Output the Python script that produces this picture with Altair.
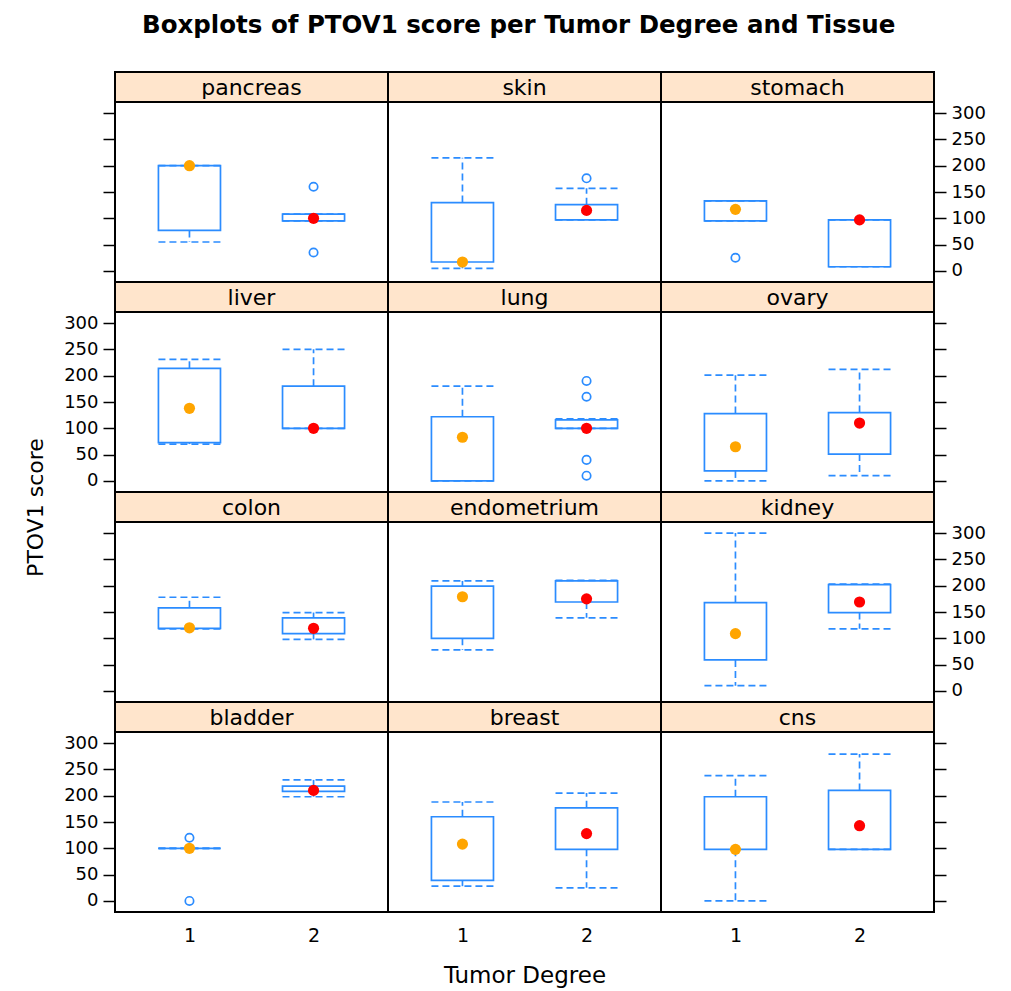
import altair as alt
import pandas as pd

# ---- data ----
TISSUES = ["pancreas", "skin", "stomach",
           "liver", "lung", "ovary",
           "colon", "endometrium", "kidney",
           "bladder", "breast", "cns"]

# degree 1 statistics, one value per tissue (same order as TISSUES)
LW_1  = [55,   5,  95,  70,   0,   0, 118,  78,  10, 100,  28,   0]
Q1_1  = [77,  17,  95,  73,   0,  19, 119, 100,  59, 100,  39,  98]
MED_1 = [200, 17, 117, 138,  83,  65, 120, 179, 109, 100, 108,  98]
Q3_1  = [200, 130, 133, 214, 122, 128, 158, 199, 168, 100, 160, 198]
UW_1  = [200, 215, 133, 231, 180, 201, 178, 209, 300, 100, 188, 238]

# degree 2 statistics
LW_2  = [95,  97,   8, 100, 100,  10,  98, 139, 118, 198,  25,  98]
Q1_2  = [95,  97,   8, 100, 100,  51, 109, 169, 149, 208,  98,  98]
MED_2 = [100, 115, 97, 100, 100, 110, 119, 175, 169, 210, 128, 143]
Q3_2  = [108, 126, 97, 180, 116, 130, 139, 209, 202, 218, 177, 210]
UW_2  = [108, 157, 97, 250, 118, 212, 149, 210, 203, 230, 205, 279]

# outliers
OUT_TISSUE = ["pancreas", "pancreas", "skin", "stomach", "lung", "lung", "lung", "lung", "bladder", "bladder"]
OUT_DEGREE = [2, 2, 2, 1, 2, 2, 2, 2, 1, 1]
OUT_VALUE  = [160, 35, 176, 25, 190, 160, 40, 10, 120, 0]

Y_TICKS = [0, 50, 100, 150, 200, 250, 300]
X_TICKS = [1, 2]

# ---- styling ----
BLUE = "#2b8cff"
STRIP = "#FFE5CC"
FONT = "DejaVu Sans"
PW, PH, SH = 273, 180, 30

rows = []
for i, t in enumerate(TISSUES):
    rows.append(dict(tissue=t, degree=1, lw=LW_1[i], q1=Q1_1[i], med=MED_1[i], q3=Q3_1[i], uw=UW_1[i]))
    rows.append(dict(tissue=t, degree=2, lw=LW_2[i], q1=Q1_2[i], med=MED_2[i], q3=Q3_2[i], uw=UW_2[i]))
stats = pd.DataFrame(rows)
outl = pd.DataFrame(dict(tissue=OUT_TISSUE, degree=OUT_DEGREE, value=OUT_VALUE))
strips = pd.DataFrame(dict(tissue=TISSUES))

xscale = alt.Scale(domain=[0.4, 2.6], nice=False, zero=False)
yscale = alt.Scale(domain=[-21, 321], nice=False, zero=False)


def make_panel(t, r, c):
    # y axis
    if c == 0:
        yax = alt.Axis(orient="left", values=Y_TICKS, tickSize=12, tickWidth=1.5, tickColor="black",
                       labels=(r % 2 == 1), labelPadding=5, labelFontSize=18, labelFont=FONT,
                       labelColor="black", domain=False, grid=False,
                       title="PTOV1 score" if r == 1 else None,
                       titleFont=FONT, titleFontSize=22, titleFontWeight="normal", titleColor="black",
                       titleX=-80, titleY=195, titleAngle=-90, titleAlign="center", titleBaseline="middle")
    elif c == 2:
        yax = alt.Axis(orient="right", values=Y_TICKS, tickSize=12, tickWidth=1.5, tickColor="black",
                       labels=(r % 2 == 0), labelPadding=5, labelFontSize=18, labelFont=FONT,
                       labelColor="black", domain=False, grid=False, title=None)
    else:
        yax = None
    if r == 3:
        xax = alt.Axis(values=X_TICKS, format="d", ticks=False, domain=False, grid=False,
                       labelPadding=14, labelFontSize=19, labelFont=FONT, labelColor="black",
                       title="Tumor Degree" if c == 1 else None, titleFont=FONT, titleFontSize=23,
                       titleFontWeight="normal", titlePadding=19, titleColor="black")
    else:
        xax = None

    def X(f):
        return alt.X(f"{f}:Q", scale=xscale, axis=xax)

    def Y(f):
        return alt.Y(f"{f}:Q", scale=yscale, axis=yax)

    base = alt.Chart(stats).transform_filter(alt.datum.tissue == t).transform_calculate(
        x_lo="datum.degree - 0.25", x_hi="datum.degree + 0.25")

    box = base.mark_rect(fill="white", stroke=BLUE, strokeWidth=1.7).encode(
        x=X("x_lo"), x2="x_hi", y=Y("q1"), y2="q3")
    dash = dict(stroke=BLUE, strokeWidth=1.7, strokeDash=[7, 4])
    up = base.mark_rule(**dash).encode(x=X("degree"), y=Y("q3"), y2="uw")
    lo = base.mark_rule(**dash).encode(x=X("degree"), y=Y("q1"), y2="lw")
    capu = base.mark_rule(**dash).encode(x=X("x_lo"), x2="x_hi", y=Y("uw"))
    capl = base.mark_rule(**dash).encode(x=X("x_lo"), x2="x_hi", y=Y("lw"))
    med = base.mark_circle(size=125, opacity=1).encode(
        x=X("degree"), y=Y("med"),
        color=alt.Color("degree:N", scale=alt.Scale(domain=[1, 2], range=["#FFA500", "#FF0000"]), legend=None))
    pts = alt.Chart(outl).transform_filter(alt.datum.tissue == t).mark_point(
        shape="circle", filled=False, size=70, stroke=BLUE, strokeWidth=1.7, opacity=1).encode(
        x=X("degree"), y=Y("value"))
    return alt.layer(box, up, lo, capu, capl, med, pts).properties(width=PW, height=PH)


def make_strip(t):
    b = alt.Chart(strips).transform_filter(alt.datum.tissue == t)
    bg = b.mark_rect(fill=STRIP, stroke="black", strokeWidth=2).encode(
        x=alt.value(0), x2=alt.value(PW), y=alt.value(0), y2=alt.value(SH))
    tx = b.mark_text(font=FONT, fontSize=22, baseline="middle", align="center", color="black").encode(
        text="tissue:N", x=alt.value(PW / 2), y=alt.value(SH / 2 + 1))
    return alt.layer(bg, tx).properties(width=PW, height=SH)


items = []
for r in range(4):
    row_t = TISSUES[r * 3:(r + 1) * 3]
    for t in row_t:
        items.append(make_strip(t))
    for c, t in enumerate(row_t):
        items.append(make_panel(t, r, c))

chart = alt.concat(*items, columns=3, spacing=0, bounds="flush", align="each").properties(
    title=alt.TitleParams("Boxplots of PTOV1 score per Tumor Degree and Tissue", font=FONT,
                          fontSize=24.5, fontWeight="bold", anchor="middle", offset=32, dx=14,
                          color="black"),
    padding={"left": 15, "top": 4, "right": 5, "bottom": 5},
    background="white",
).configure_view(stroke="black", strokeWidth=2)

chart.save("out.html", embed_options={"renderer": "svg", "actions": False})
